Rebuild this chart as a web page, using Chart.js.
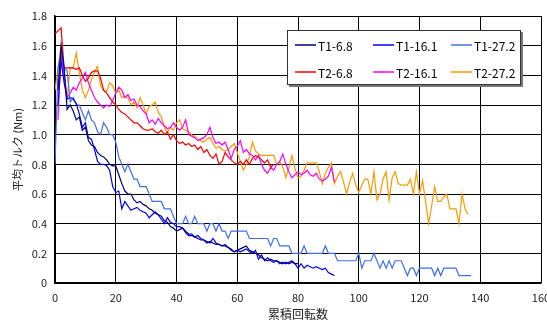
<!DOCTYPE html>
<html>
<head>
<meta charset="utf-8">
<script src="https://cdn.jsdelivr.net/npm/chart.js@4"></script>
<style>
  body { margin: 0; background: #fff; }
  #wrap { width: 547px; height: 322px; }
</style>
</head>
<body>
<div id="wrap"><canvas id="chart" width="547" height="322"></canvas></div>
<script>
// 系列ラベル
const labels = ["T1-6.8", "T1-16.1", "T1-27.2", "T2-6.8", "T2-16.1", "T2-27.2"]
const colors = ["#000080", "#0000ff", "#3f6fef", "#ff0000", "#ff00ff", "#ff9900"]

// 各系列の開始回転数 (累積回転数)
const startX = [1, 1, 0, 0, 1, 0]

// 平均トルク (Nm)
const t1_68 = [1.3,1.6,1.45,1.17,1.2,1.16,1.1,1.12,1.03,1.05,0.96,0.93,0.92,0.88,0.86,0.85,0.83,0.8,0.79,0.79,
  0.73,0.67,0.62,0.6,0.6,0.56,0.54,0.55,0.53,0.52,0.5,0.49,0.47,0.46,0.45,0.42,0.41,0.38,0.37,0.35,
  0.36,0.37,0.34,0.32,0.32,0.31,0.3,0.29,0.29,0.27,0.28,0.27,0.26,0.26,0.25,0.25,0.24,0.22,0.21,0.22,
  0.23,0.24,0.25,0.22,0.21,0.2,0.19,0.17,0.16,0.15,0.16,0.15,0.15,0.14,0.13,0.14,0.13,0.14,0.13,0.13]
const t1_161 = [1.2,1.5,1.35,1.24,1.25,1.24,1.21,1.14,1.05,1.08,0.98,0.97,0.9,0.82,0.8,0.8,0.79,0.76,0.65,0.61,
  0.62,0.5,0.55,0.52,0.49,0.5,0.51,0.49,0.48,0.47,0.44,0.46,0.48,0.46,0.43,0.4,0.44,0.41,0.4,0.38,
  0.38,0.37,0.35,0.33,0.33,0.31,0.32,0.3,0.29,0.28,0.27,0.3,0.27,0.26,0.25,0.26,0.24,0.23,0.21,0.22,
  0.21,0.22,0.23,0.21,0.2,0.22,0.16,0.19,0.15,0.17,0.15,0.14,0.15,0.13,0.14,0.13,0.14,0.15,0.13,0.1,
  0.13,0.1,0.12,0.11,0.1,0.11,0.1,0.09,0.1,0.07,0.06,0.05]
const t1_272 = [0.8,1.45,1.55,1.45,1.43,1.22,1.25,1.2,1.2,1.15,1.1,1.16,1.1,1.08,1.02,1.0,1.08,1.05,1.0,1.0,
  0.95,0.85,0.8,0.75,0.8,0.75,0.7,0.7,0.65,0.65,0.65,0.6,0.55,0.55,0.55,0.55,0.5,0.5,0.5,0.45,
  0.4,0.4,0.4,0.45,0.4,0.4,0.45,0.4,0.4,0.4,0.35,0.4,0.4,0.35,0.4,0.35,0.35,0.3,0.35,0.35,
  0.35,0.35,0.35,0.35,0.3,0.3,0.3,0.3,0.3,0.3,0.3,0.25,0.3,0.3,0.25,0.25,0.25,0.25,0.2,0.2,
  0.2,0.2,0.25,0.2,0.2,0.2,0.2,0.2,0.2,0.25,0.2,0.2,0.2,0.15,0.15,0.15,0.15,0.15,0.15,0.15,
  0.2,0.1,0.15,0.15,0.15,0.2,0.15,0.1,0.15,0.1,0.15,0.1,0.15,0.15,0.15,0.1,0.05,0.1,0.1,0.05,
  0.1,0.1,0.1,0.1,0.1,0.05,0.1,0.05,0.1,0.1,0.1,0.1,0.1,0.05,0.05,0.05,0.05,0.05]
const t2_68 = [1.68,1.7,1.72,1.45,1.45,1.45,1.45,1.44,1.45,1.4,1.36,1.38,1.42,1.43,1.43,1.38,1.3,1.28,1.25,1.22,
  1.2,1.17,1.15,1.14,1.12,1.1,1.08,1.08,1.06,1.04,1.03,1.03,1.04,1.02,1.01,1.03,1.0,1.02,0.97,1.0,
  0.96,0.94,0.95,0.93,0.94,0.92,0.93,0.9,0.92,0.88,0.9,0.86,0.84,0.87,0.8,0.82,0.88,0.85,0.83,0.81,
  0.8,0.82,0.8,0.83,0.8,0.84,0.86,0.85,0.83,0.81,0.83,0.78,0.8]
const t2_161 = [1.1,1.58,1.4,1.25,1.28,1.32,1.3,1.35,1.38,1.42,1.35,1.3,1.25,1.22,1.2,1.18,1.2,1.19,1.23,1.28,
  1.32,1.3,1.25,1.27,1.23,1.24,1.2,1.19,1.16,1.14,1.08,1.1,1.07,1.11,1.08,1.06,1.04,1.05,1.08,1.05,
  1.03,1.05,1.1,1.0,0.99,0.98,0.96,0.97,0.98,1.0,1.05,0.98,0.94,0.95,0.93,0.95,0.9,0.84,0.9,0.92,
  0.96,0.88,0.9,0.87,0.86,0.83,0.86,0.8,0.76,0.74,0.78,0.76,0.8,0.82,0.87,0.8,0.75,0.71,0.73,0.75,
  0.73,0.74,0.76,0.73,0.72,0.74,0.7,0.69,0.7,0.72,0.78,0.68]
const t2_272 = [1.3,1.45,1.6,1.4,1.25,1.45,1.45,1.55,1.42,1.3,1.25,1.3,1.37,1.42,1.46,1.33,1.3,1.29,1.35,1.33,
  1.28,1.3,1.25,1.26,1.25,1.2,1.22,1.18,1.25,1.2,1.14,1.19,1.2,1.22,1.15,1.12,1.05,1.01,1.05,1.03,
  1.08,1.1,1.04,1.03,1.02,1.0,0.99,0.97,0.96,0.95,0.97,0.98,0.94,0.91,0.92,0.9,0.89,0.9,0.92,0.94,
  0.88,0.82,0.76,0.8,0.85,0.95,0.89,0.87,0.86,0.86,0.86,0.86,0.86,0.8,0.82,0.78,0.71,0.78,0.86,0.77,
  0.71,0.72,0.76,0.81,0.81,0.81,0.81,0.75,0.67,0.74,0.78,0.81,0.67,0.72,0.75,0.68,0.6,0.68,0.74,0.66,
  0.61,0.66,0.7,0.7,0.6,0.75,0.56,0.6,0.7,0.75,0.56,0.71,0.75,0.67,0.66,0.66,0.66,0.7,0.6,0.75,
  0.6,0.69,0.55,0.4,0.52,0.65,0.55,0.55,0.58,0.6,0.5,0.5,0.5,0.4,0.6,0.5,0.46]

const series = [t1_68, t1_161, t1_272, t2_68, t2_161, t2_272]

// x軸・y軸の目盛り
const xTicks = [0, 20, 40, 60, 80, 100, 120, 140, 160]
const yTicks = [0, 0.2, 0.4, 0.6, 0.8, 1, 1.2, 1.4, 1.6, 1.8]

function toPoints(start, ys) {
  return ys.map((y, i) => ({ x: start + i, y: y }))
}

const datasets = series.map((ys, i) => ({
  label: labels[i],
  data: toPoints(startX[i], ys),
  borderColor: colors[i],
  backgroundColor: colors[i],
  borderWidth: 1.2,
  pointRadius: 0,
  tension: 0,
  fill: false
}))

// 凡例を枠付きで描く
const legendBox = {
  id: "legendBox",
  afterDraw(chart) {
    const ctx = chart.ctx
    const x0 = 287, y0 = 30, w = 234, h = 55
    ctx.save()
    ctx.fillStyle = "#777"
    ctx.fillRect(x0 + 2, y0 + 2, w, h)
    ctx.fillStyle = "#fff"
    ctx.fillRect(x0, y0, w, h)
    ctx.strokeStyle = "#333"
    ctx.lineWidth = 1
    ctx.strokeRect(x0 + 0.5, y0 + 0.5, w - 1, h - 1)
    ctx.font = "12px 'Noto Sans CJK JP', sans-serif"
    ctx.textBaseline = "middle"
    ctx.fillStyle = "#000"
    chart.data.datasets.forEach((ds, i) => {
      const col = i % 3, row = Math.floor(i / 3)
      const lx = x0 + 8 + col * 78
      const ly = y0 + 15 + row * 27
      ctx.strokeStyle = ds.borderColor
      ctx.lineWidth = 1.5
      ctx.beginPath()
      ctx.moveTo(lx, ly)
      ctx.lineTo(lx + 21, ly)
      ctx.stroke()
      ctx.fillText(ds.label, lx + 23, ly + 1)
    })
    ctx.restore()
  }
}

const tickFont = { family: "'Noto Sans CJK JP', sans-serif", size: 11 }

new Chart(document.getElementById("chart"), {
  type: "line",
  data: { datasets: datasets },
  options: {
    responsive: false,
    animation: false,
    layout: { padding: { top: 16, right: 6, left: 0, bottom: 0 } },
    plugins: {
      legend: { display: false },
      tooltip: { enabled: false }
    },
    scales: {
      x: {
        type: "linear",
        min: 0,
        max: 160,
        afterBuildTicks(scale) { scale.ticks = xTicks.map(v => ({ value: v })) },
        afterFit(scale) {
          scale.height = 39
          scale.paddingLeft = 0
          scale.paddingRight = 0
        },
        grid: { color: "#000", lineWidth: 1, drawTicks: false },
        border: { color: "#000", width: 1.5 },
        ticks: { color: "#222", font: tickFont, padding: 8, maxRotation: 0 },
        title: {
          display: true,
          text: "累積回転数",
          color: "#222",
          font: { family: "'Noto Sans CJK JP', sans-serif", size: 12 },
          padding: { top: 0, bottom: 0 }
        }
      },
      y: {
        min: 0,
        max: 1.8,
        afterBuildTicks(scale) { scale.ticks = yTicks.map(v => ({ value: v })) },
        afterFit(scale) {
          scale.width = 55
          scale.paddingTop = 0
          scale.paddingBottom = 0
        },
        grid: { color: "#000", lineWidth: 1, drawTicks: false },
        border: { color: "#000", width: 1.5 },
        ticks: { color: "#222", font: tickFont, padding: 8 },
        title: {
          display: true,
          text: "平均トルク (Nm)",
          color: "#222",
          font: { family: "'Noto Sans CJK JP', sans-serif", size: 11 },
          padding: { top: 11, bottom: 0 }
        }
      }
    }
  },
  plugins: [legendBox]
})
</script>
</body>
</html>
